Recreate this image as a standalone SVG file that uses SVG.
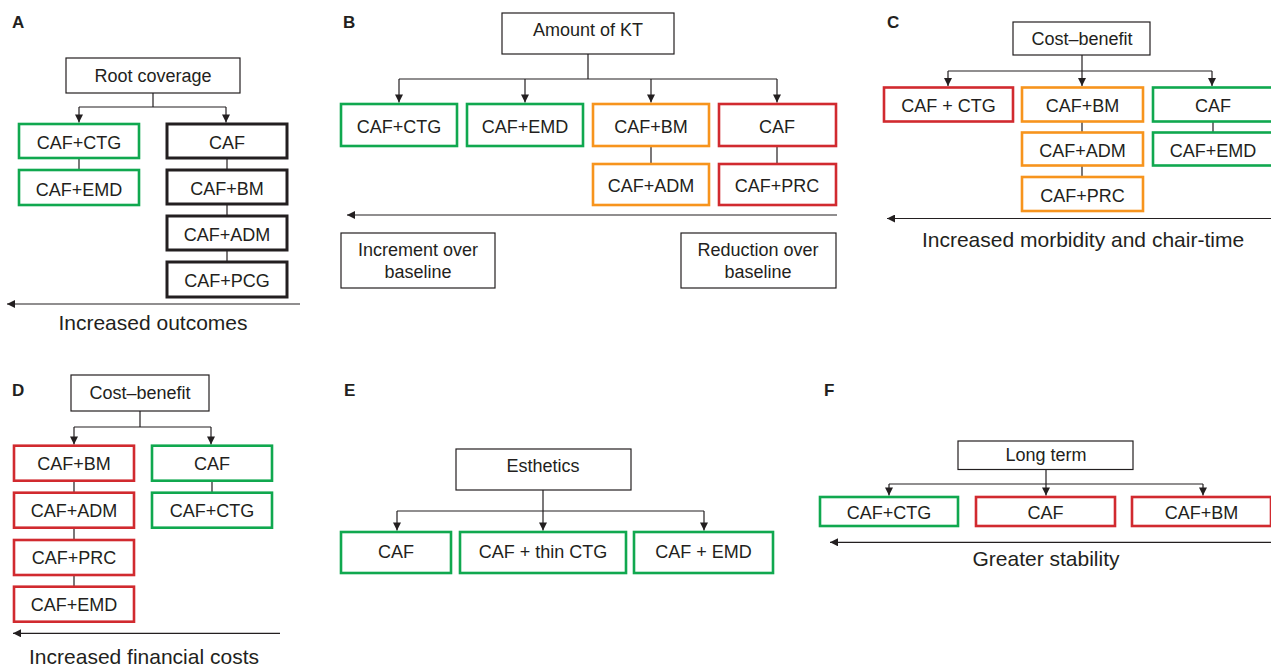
<svg xmlns="http://www.w3.org/2000/svg" width="1271" height="667" viewBox="0 0 1271 667">
<defs>
<marker id="ah" viewBox="0 0 10 10" refX="10" refY="5" markerWidth="9" markerHeight="8" markerUnits="userSpaceOnUse" orient="auto">
<path d="M0,0 L10,5 L0,10 z" fill="#231f20"/>
</marker>
</defs>
<style>
text{font-family:"Liberation Sans",Arial,Helvetica,sans-serif;fill:#231f20;text-anchor:middle}
.t{font-size:18px}
.ax{font-size:21px}
.lbl{font-size:17px;font-weight:bold;text-anchor:start}
rect{fill:#fff}
.plain{stroke:#231f20;stroke-width:1.2}
.g{stroke:#10a84f;stroke-width:2.6}
.o{stroke:#f7941d;stroke-width:2.6}
.r{stroke:#d12a2f;stroke-width:2.6}
.k{stroke:#231f20;stroke-width:3}
.c path{fill:none;stroke:#231f20;stroke-width:1.2}
.c .ar{marker-end:url(#ah)}
</style>
<rect x="0" y="0" width="1271" height="667" style="fill:#fff"/>

<!-- panel labels -->
<text class="lbl" x="12" y="28">A</text>
<text class="lbl" x="343" y="28">B</text>
<text class="lbl" x="887" y="28">C</text>
<text class="lbl" x="12" y="396">D</text>
<text class="lbl" x="344" y="396">E</text>
<text class="lbl" x="824" y="396">F</text>

<g id="connectors" class="c">
<!-- A -->
<path d="M153,93 V107"/>
<path d="M79,107 H226"/>
<path class="ar" d="M79,107 V122.5"/>
<path class="ar" d="M226,107 V122.5"/>
<path d="M79,158 V170"/>
<path d="M227,158 V170 M227,204 V216 M227,250 V262"/>
<path class="ar" d="M300,304 H7"/>
<!-- B -->
<path d="M588,54 V79"/>
<path d="M399,79 H777"/>
<path class="ar" d="M399,79 V102.5"/>
<path class="ar" d="M525,79 V102.5"/>
<path class="ar" d="M651,79 V102.5"/>
<path class="ar" d="M777,79 V102.5"/>
<path d="M651,146 V164 M777,146 V164"/>
<path class="ar" d="M837,215 H347"/>
<!-- C -->
<path d="M1082,55 V71"/>
<path d="M948,71 H1212"/>
<path class="ar" d="M948,71 V86"/>
<path class="ar" d="M1082,71 V86"/>
<path class="ar" d="M1212,71 V86"/>
<path d="M1082,121.5 V132.5 M1082,165.5 V177 M1213,121.5 V132.5"/>
<path class="ar" d="M1271,218.5 H887"/>
<!-- D -->
<path d="M140,411 V427"/>
<path d="M74,427 H211"/>
<path class="ar" d="M74,427 V444.5"/>
<path class="ar" d="M211,427 V444.5"/>
<path d="M74,480.7 V492.7 M74,527.7 V540 M74,575 V586.7 M212,480.7 V492.7"/>
<path class="ar" d="M280,633.3 H13"/>
<!-- E -->
<path d="M397,511 H704"/>
<path class="ar" d="M543,490 V530.5"/>
<path class="ar" d="M397,511 V530.5"/>
<path class="ar" d="M704,511 V530.5"/>
<!-- F -->
<path d="M1046,469.5 V484"/>
<path d="M889,484 H1203"/>
<path class="ar" d="M1046,484 V495.5"/>
<path class="ar" d="M889,484 V495.5"/>
<path class="ar" d="M1203,484 V495.5"/>
<path class="ar" d="M1271,542.3 H830"/>
</g>

<!-- Panel A -->
<g id="a-root"><rect class="plain" x="66" y="58" width="174" height="35"/><text class="t" x="153" y="81.5">Root coverage</text></g>
<g id="a-ctg"><rect class="g" x="19" y="124" width="120" height="34"/><text class="t" x="79" y="149">CAF+CTG</text></g>
<g id="a-emd"><rect class="g" x="19" y="170" width="120" height="35"/><text class="t" x="79" y="195.5">CAF+EMD</text></g>
<g id="a-caf"><rect class="k" x="167" y="124" width="120" height="34"/><text class="t" x="227" y="149">CAF</text></g>
<g id="a-bm"><rect class="k" x="167" y="170" width="120" height="34"/><text class="t" x="227" y="195">CAF+BM</text></g>
<g id="a-adm"><rect class="k" x="167" y="216" width="120" height="34"/><text class="t" x="227" y="240.5">CAF+ADM</text></g>
<g id="a-pcg"><rect class="k" x="167" y="262" width="120" height="35"/><text class="t" x="227" y="287">CAF+PCG</text></g>
<text class="ax" x="153" y="330">Increased outcomes</text>

<!-- Panel B -->
<g id="b-root"><rect class="plain" x="502" y="13" width="172" height="41"/><text class="t" x="588" y="36">Amount of KT</text></g>
<g id="b-ctg"><rect class="g" x="341" y="104" width="116" height="42"/><text class="t" x="399" y="133">CAF+CTG</text></g>
<g id="b-emd"><rect class="g" x="467" y="104" width="116" height="42"/><text class="t" x="525" y="133">CAF+EMD</text></g>
<g id="b-bm"><rect class="o" x="593" y="104" width="116" height="42"/><text class="t" x="651" y="133">CAF+BM</text></g>
<g id="b-caf"><rect class="r" x="719" y="104" width="117" height="42"/><text class="t" x="777" y="133">CAF</text></g>
<g id="b-adm"><rect class="o" x="593" y="164" width="116" height="41"/><text class="t" x="651" y="191.5">CAF+ADM</text></g>
<g id="b-prc"><rect class="r" x="719" y="164" width="117" height="41"/><text class="t" x="777" y="191.5">CAF+PRC</text></g>
<g id="b-inc"><rect class="plain" x="341" y="233" width="154" height="55"/><text class="t" x="418" y="256">Increment over</text><text class="t" x="418" y="277.5">baseline</text></g>
<g id="b-red"><rect class="plain" x="681" y="233" width="155" height="55"/><text class="t" x="758" y="256">Reduction over</text><text class="t" x="758" y="277.5">baseline</text></g>

<!-- Panel C -->
<g id="c-root"><rect class="plain" x="1013" y="22" width="137" height="33"/><text class="t" x="1082" y="45">Cost–benefit</text></g>
<g id="c-ctg"><rect class="r" x="884" y="87.5" width="129" height="34"/><text class="t" x="948.5" y="111.5">CAF + CTG</text></g>
<g id="c-bm"><rect class="o" x="1022" y="87.5" width="121" height="34"/><text class="t" x="1082.5" y="111.5">CAF+BM</text></g>
<g id="c-caf"><rect class="g" x="1153" y="87.5" width="122" height="34"/><text class="t" x="1213" y="111.5">CAF</text></g>
<g id="c-adm"><rect class="o" x="1022" y="132.5" width="121" height="33"/><text class="t" x="1082.5" y="156.5">CAF+ADM</text></g>
<g id="c-emd"><rect class="g" x="1153" y="132.5" width="122" height="33"/><text class="t" x="1213" y="156.5">CAF+EMD</text></g>
<g id="c-prc"><rect class="o" x="1022" y="177" width="121" height="34"/><text class="t" x="1082.5" y="201.5">CAF+PRC</text></g>
<text class="ax" x="1083" y="246.5">Increased morbidity and chair-time</text>

<!-- Panel D -->
<g id="d-root"><rect class="plain" x="71" y="375" width="138" height="36"/><text class="t" x="140" y="399">Cost–benefit</text></g>
<g id="d-bm"><rect class="r" x="14" y="445.7" width="120" height="35"/><text class="t" x="74" y="470">CAF+BM</text></g>
<g id="d-adm"><rect class="r" x="14" y="492.7" width="120" height="35"/><text class="t" x="74" y="516.7">CAF+ADM</text></g>
<g id="d-prc"><rect class="r" x="14" y="540" width="120" height="35"/><text class="t" x="74" y="564.3">CAF+PRC</text></g>
<g id="d-emd"><rect class="r" x="14" y="586.7" width="120" height="35"/><text class="t" x="74" y="610.7">CAF+EMD</text></g>
<g id="d-caf"><rect class="g" x="152" y="445.7" width="120" height="35"/><text class="t" x="212" y="470">CAF</text></g>
<g id="d-ctg"><rect class="g" x="152" y="492.7" width="120" height="35"/><text class="t" x="212" y="516.7">CAF+CTG</text></g>
<text class="ax" x="144" y="664">Increased financial costs</text>

<!-- Panel E -->
<g id="e-root"><rect class="plain" x="456" y="449" width="175" height="41"/><text class="t" x="543" y="471.7">Esthetics</text></g>
<g id="e-caf"><rect class="g" x="341" y="532" width="110" height="41"/><text class="t" x="396" y="557.7">CAF</text></g>
<g id="e-ctg"><rect class="g" x="460" y="532" width="166" height="41"/><text class="t" x="543" y="557.7">CAF + thin CTG</text></g>
<g id="e-emd"><rect class="g" x="634" y="532" width="139" height="41"/><text class="t" x="703.5" y="557.7">CAF + EMD</text></g>

<!-- Panel F -->
<g id="f-root"><rect class="plain" x="958" y="441" width="175" height="28.5"/><text class="t" x="1046" y="461">Long term</text></g>
<g id="f-ctg"><rect class="g" x="820" y="497" width="138" height="29"/><text class="t" x="889" y="518.5">CAF+CTG</text></g>
<g id="f-caf"><rect class="r" x="976" y="497" width="139" height="29"/><text class="t" x="1045.5" y="518.5">CAF</text></g>
<g id="f-bm"><rect class="r" x="1132" y="497" width="139" height="29"/><text class="t" x="1201.5" y="518.5">CAF+BM</text></g>
<text class="ax" x="1046" y="566">Greater stability</text>
</svg>
